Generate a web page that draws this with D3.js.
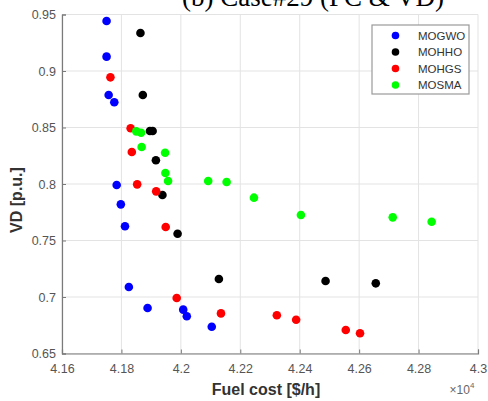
<!DOCTYPE html>
<html>
<head>
<meta charset="utf-8">
<script src="https://cdn.jsdelivr.net/npm/d3@7"></script>
<style>
  html, body { margin: 0; padding: 0; background: #fff; }
  svg { display: block; font-family: "Liberation Sans", Arial, sans-serif; }
</style>
</head>
<body>
<svg id="chart" width="488" height="401"></svg>
<script>
// ========= Data (fuel cost in $/h, VD in p.u.) =========
const seriesNames = ["MOGWO", "MOHHO", "MOHGS", "MOSMA"];
const seriesColors = ["#0000ff", "#000000", "#ff0000", "#00ff00"];

const mogwoCost = [41750, 41750, 41757, 41776, 41784, 41798, 41812, 41825, 41888, 42008, 42020, 42104];
const mogwoVD   = [0.9442, 0.9127, 0.8788, 0.8723, 0.7991, 0.7820, 0.7626, 0.7088, 0.6903, 0.6888, 0.6829, 0.6737];

const mohhoCost = [41864, 41872, 41896, 41905, 41916, 41938, 41989, 42128, 42487, 42656];
const mohhoVD   = [0.9336, 0.8788, 0.8469, 0.8469, 0.8210, 0.7903, 0.7560, 0.7159, 0.7142, 0.7121];

const mohgsCost = [41763, 41831, 41835, 41853, 41917, 41949, 41986, 42135, 42323, 42388, 42555, 42603];
const mohgsVD   = [0.8944, 0.8493, 0.8283, 0.7997, 0.7935, 0.7619, 0.6991, 0.6855, 0.6838, 0.6799, 0.6708, 0.6679];

const mosmaCost = [41850, 41866, 41868, 41947, 41948, 41957, 42092, 42154, 42246, 42404, 42713, 42844];
const mosmaVD   = [0.8466, 0.8454, 0.8327, 0.8277, 0.8097, 0.8026, 0.8026, 0.8018, 0.7879, 0.7726, 0.7705, 0.7666];

const xTicks = [41600, 41800, 42000, 42200, 42400, 42600, 42800, 43000];
const yTicks = [0.65, 0.7, 0.75, 0.8, 0.85, 0.9, 0.95];

const titleText = "(b) Case#29 (FC & VD)";

// ========= Layout =========
const svg = d3.select("#chart");
const margin = { left: 62, right: 10, top: 14.5, bottom: 47.5 };
const width = 488, height = 401;
const innerW = width - margin.left - margin.right;
const innerH = height - margin.top - margin.bottom;

const x = d3.scaleLinear().domain([41600, 43000]).range([0, innerW]);
const y = d3.scaleLinear().domain([0.65, 0.95]).range([innerH, 0]);

const g = svg.append("g")
  .attr("transform", `translate(${margin.left},${margin.top})`);

// Grid lines
g.append("g")
  .selectAll("line")
  .data(xTicks)
  .join("line")
  .attr("x1", d => x(d)).attr("x2", d => x(d))
  .attr("y1", 0).attr("y2", innerH)
  .attr("stroke", "#e3e3e3").attr("stroke-width", 1);

g.append("g")
  .selectAll("line")
  .data(yTicks)
  .join("line")
  .attr("x1", 0).attr("x2", innerW)
  .attr("y1", d => y(d)).attr("y2", d => y(d))
  .attr("stroke", "#e3e3e3").attr("stroke-width", 1);

// Axes (MATLAB-ish: inward ticks, grey)
const axisColor = "#7a7a7a";
const xAxis = g.append("g")
  .attr("transform", `translate(0,${innerH})`)
  .call(d3.axisBottom(x).tickValues(xTicks).tickSize(-4).tickPadding(11)
    .tickFormat(d => d3.format("~g")(+(d / 1e4).toFixed(2))));

const yAxis = g.append("g")
  .call(d3.axisLeft(y).tickValues(yTicks).tickSize(-4).tickPadding(6)
    .tickFormat(d => d3.format("~g")(d)));

[xAxis, yAxis].forEach(ax => {
  ax.select(".domain").attr("stroke", axisColor).attr("stroke-width", 1.2);
  ax.selectAll(".tick line").attr("stroke", axisColor);
  ax.selectAll("text")
    .attr("fill", "#555")
    .attr("font-size", 12.5)
    .attr("font-family", "Liberation Sans, Arial, sans-serif");
});

// Points
const series = [
  { name: seriesNames[0], color: seriesColors[0], xs: mogwoCost, ys: mogwoVD },
  { name: seriesNames[1], color: seriesColors[1], xs: mohhoCost, ys: mohhoVD },
  { name: seriesNames[2], color: seriesColors[2], xs: mohgsCost, ys: mohgsVD },
  { name: seriesNames[3], color: seriesColors[3], xs: mosmaCost, ys: mosmaVD }
];

series.forEach(s => {
  g.append("g")
    .selectAll("circle")
    .data(s.xs.map((c, i) => ({ c, v: s.ys[i] })))
    .join("circle")
    .attr("cx", d => x(d.c))
    .attr("cy", d => y(d.v))
    .attr("r", 4.3)
    .attr("fill", s.color);
});

// Legend
const legend = svg.append("g").attr("transform", "translate(372,25)");
legend.append("rect")
  .attr("width", 97).attr("height", 69)
  .attr("fill", "#fff")
  .attr("stroke", "#9a9a9a").attr("stroke-width", 1.2);

series.forEach((s, i) => {
  const row = legend.append("g").attr("transform", `translate(0,${10.5 + i * 16.5})`);
  row.append("circle").attr("cx", 23.5).attr("cy", 0).attr("r", 3.8).attr("fill", s.color);
  row.append("text")
    .attr("x", 46).attr("y", 0)
    .attr("dominant-baseline", "central")
    .attr("font-size", 11.5)
    .attr("fill", "#333")
    .text(s.name);
});

// Labels
svg.append("text")
  .attr("x", 266).attr("y", 395)
  .attr("text-anchor", "middle")
  .attr("font-size", 16).attr("font-weight", "bold")
  .attr("fill", "#333")
  .text("Fuel cost [$/h]");

svg.append("text")
  .attr("transform", "translate(22,200) rotate(-90)")
  .attr("text-anchor", "middle")
  .attr("font-size", 16).attr("font-weight", "bold")
  .attr("fill", "#333")
  .text("VD [p.u.]");

const mult = svg.append("text")
  .attr("x", 462).attr("y", 394)
  .attr("text-anchor", "middle")
  .attr("font-size", 12)
  .attr("fill", "#666");
mult.append("tspan").text("\u00d710");
mult.append("tspan").attr("font-size", 8).attr("dy", -6).text("4");

// Title (cropped at the top edge, as in the reference)
svg.append("text")
  .attr("x", 182).attr("y", 6)
  .attr("font-family", "Liberation Serif, Times New Roman, serif")
  .attr("font-size", 27)
  .attr("fill", "#000")
  .text(titleText);
</script>
</body>
</html>
